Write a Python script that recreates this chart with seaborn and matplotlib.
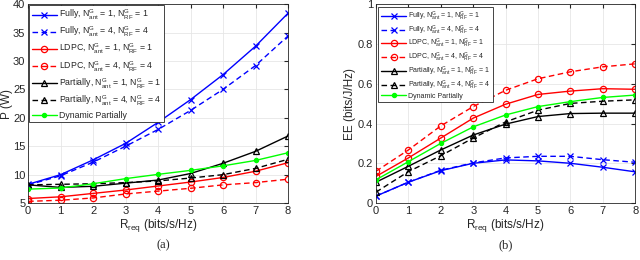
import matplotlib
matplotlib.use("Agg")
import matplotlib.pyplot as plt
import seaborn as sns
import numpy as np

sns.set_style("white")
plt.rcParams['font.family'] = ['Liberation Sans', 'DejaVu Sans']
plt.rcParams['mathtext.fontset'] = 'custom'
plt.rcParams['mathtext.rm'] = 'Liberation Sans'
plt.rcParams['mathtext.it'] = 'Liberation Sans'

r_req = [0, 1, 2, 3, 4, 5, 6, 7, 8]

# Panel (a): power P (W)
p_fully_1 = [8.3, 10.0, 12.6, 15.5, 19.2, 23.2, 27.6, 32.6, 38.4]
p_fully_4 = [8.2, 9.8, 12.2, 15.0, 17.95, 21.3, 25.0, 29.2, 34.4]
p_ldpc_1 = [5.8, 6.1, 6.7, 7.3, 8.0, 8.7, 9.5, 10.6, 12.1]
p_ldpc_4 = [5.3, 5.5, 5.9, 6.6, 7.1, 7.6, 8.2, 8.6, 9.2]
p_part_1 = [8.2, 7.75, 7.95, 8.5, 9.05, 10.2, 12.0, 14.1, 16.8]
p_part_4 = [8.2, 8.3, 8.4, 8.6, 8.9, 9.4, 10.0, 11.1, 12.7]
p_dyn = [7.45, 7.65, 8.4, 9.3, 10.05, 10.75, 11.55, 12.5, 13.85]

# Panel (b): energy efficiency EE (bits/J/Hz)
ee_fully_1 = [0.035, 0.105, 0.163, 0.20, 0.217, 0.212, 0.20, 0.18, 0.157]
ee_fully_4 = [0.035, 0.105, 0.165, 0.202, 0.227, 0.235, 0.235, 0.218, 0.205]
ee_ldpc_1 = [0.134, 0.227, 0.327, 0.427, 0.497, 0.546, 0.563, 0.575, 0.572]
ee_ldpc_4 = [0.16, 0.267, 0.388, 0.485, 0.567, 0.625, 0.66, 0.685, 0.70]
ee_part_1 = [0.105, 0.185, 0.267, 0.342, 0.397, 0.435, 0.45, 0.452, 0.452]
ee_part_4 = [0.055, 0.158, 0.238, 0.327, 0.408, 0.467, 0.501, 0.512, 0.519]
ee_dyn = [0.117, 0.208, 0.30, 0.383, 0.443, 0.485, 0.51, 0.531, 0.543]

labels = [
    r"Fully, N$_{\mathrm{ant}}^{\mathrm{G}}$ = 1, N$_{\mathrm{RF}}^{\mathrm{G}}$ = 1",
    r"Fully, N$_{\mathrm{ant}}^{\mathrm{G}}$ = 4, N$_{\mathrm{RF}}^{\mathrm{G}}$ = 4",
    r"LDPC, N$_{\mathrm{ant}}^{\mathrm{G}}$ = 1, N$_{\mathrm{RF}}^{\mathrm{G}}$ = 1",
    r"LDPC, N$_{\mathrm{ant}}^{\mathrm{G}}$ = 4, N$_{\mathrm{RF}}^{\mathrm{G}}$ = 4",
    r"Partially, N$_{\mathrm{ant}}^{\mathrm{G}}$ = 1, N$_{\mathrm{RF}}^{\mathrm{G}}$ = 1",
    r"Partially, N$_{\mathrm{ant}}^{\mathrm{G}}$ = 4, N$_{\mathrm{RF}}^{\mathrm{G}}$ = 4",
    "Dynamic Partially",
]
styles = [
    dict(color="#0000ff", linestyle="-", marker="x", markersize=3.8, mfc="none"),
    dict(color="#0000ff", linestyle=(0, (4, 2.5)), marker="x", markersize=3.8, mfc="none"),
    dict(color="#ff0000", linestyle="-", marker="o", markersize=4.5, mfc="none"),
    dict(color="#ff0000", linestyle=(0, (4, 2.5)), marker="o", markersize=4.5, mfc="none"),
    dict(color="#000000", linestyle="-", marker="^", markersize=4.5, mfc="none"),
    dict(color="#000000", linestyle=(0, (4, 2.5)), marker="^", markersize=4.5, mfc="none"),
    dict(color="#00ff00", linestyle="-", marker="o", markersize=3.0, mfc="#00ff00"),
]

fig = plt.figure(figsize=(6.4, 2.6), dpi=100)
ax1 = fig.add_axes([0.044, 0.219, 0.406, 0.765])
ax2 = fig.add_axes([0.5875, 0.219, 0.405, 0.765])

p_series = [p_fully_1, p_fully_4, p_ldpc_1, p_ldpc_4, p_part_1, p_part_4, p_dyn]
ee_series = [ee_fully_1, ee_fully_4, ee_ldpc_1, ee_ldpc_4, ee_part_1, ee_part_4, ee_dyn]

for ax, series in ((ax1, p_series), (ax2, ee_series)):
    for vals, lab, st in zip(series, labels, styles):
        st = dict(st)
        mfc = st.pop("mfc")
        ls = st.pop("linestyle")
        line_ax = sns.lineplot(x=r_req, y=vals, ax=ax, label=lab, linewidth=1.0,
                               markeredgewidth=0.9, markeredgecolor=st["color"],
                               markerfacecolor=mfc, **st)
        line_ax.lines[-1].set_linestyle(ls)
    ax.set_xlim(0, 8)
    ax.set_xticks(range(0, 9))
    ax.grid(True, color="#e6e6e6", linewidth=0.6)
    ax.tick_params(direction="in", labelsize=8, length=3, colors="#262626",
                   top=True, right=True, pad=2)
    for s in ax.spines.values():
        s.set_color("#262626")
        s.set_linewidth(0.6)
    ax.set_xlabel(r"R$_{\mathrm{req}}$ (bits/s/Hz)", fontsize=8.5, labelpad=1, color="#262626")

ax1.set_ylim(5, 40)
ax1.set_yticks(range(5, 41, 5))
ax1.set_ylabel("P (W)", fontsize=8.5, labelpad=0, color="#262626")
ax2.set_ylim(0, 1)
ax2.set_yticks([0, 0.2, 0.4, 0.6, 0.8, 1])
ax2.set_yticklabels(["0", "0.2", "0.4", "0.6", "0.8", "1"])
ax2.set_ylabel("EE (bits/J/Hz)", fontsize=8.5, labelpad=1, color="#262626")

leg1 = ax1.legend(loc="upper left", fontsize=6.3, frameon=True, fancybox=False,
                  edgecolor="#262626", framealpha=1, borderaxespad=0.15,
                  handlelength=2.8, labelspacing=0.33, borderpad=0.3,
                  handletextpad=0.3, numpoints=1)
leg2 = ax2.legend(loc="upper left", fontsize=5.0, frameon=True, fancybox=False,
                  edgecolor="#262626", framealpha=1, borderaxespad=0.35,
                  handlelength=3.6, labelspacing=0.08, borderpad=0.4,
                  handletextpad=0.3, numpoints=1)
for leg in (leg1, leg2):
    leg.get_frame().set_linewidth(0.6)
    for h, st in zip(leg.legend_handles, styles):
        h.set_linestyle(st["linestyle"])

fig.text(0.255, 0.045, "(a)", ha="center", fontsize=9, family="Liberation Serif")
fig.text(0.79, 0.045, "(b)", ha="center", fontsize=9, family="Liberation Serif")

fig.savefig("out.png", dpi=100)
